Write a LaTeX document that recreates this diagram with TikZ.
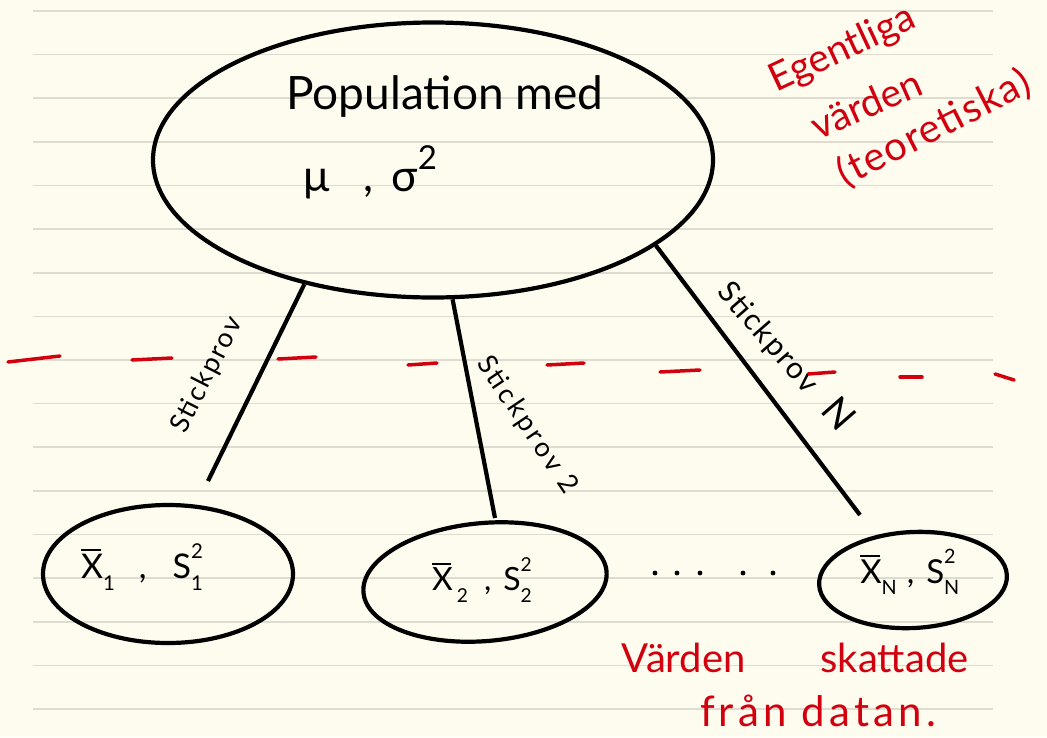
\documentclass[tikz,border=0pt]{standalone}
\usepackage{fontspec}
\setmainfont{Lato}
\usetikzlibrary{shapes.geometric}
\definecolor{paper}{HTML}{FEFCEF}
\definecolor{ruleline}{HTML}{DEDBD1}
\definecolor{ink}{HTML}{D2000F}
\newcommand\Xbar{\makebox[0pt][l]{\raisebox{0.8em}{\rule{0.6em}{0.07em}}}X}
\newcommand\mysub[1]{\raisebox{-0.35em}{\scalebox{0.6}{#1}}}
\newcommand\mysubsup[2]{\rlap{\raisebox{-0.35em}{\scalebox{0.6}{#1}}}\raisebox{0.6em}{\scalebox{0.6}{#2}}}
\tikzset{
  bubble/.style={draw=black, line width=4.2pt, ellipse, inner sep=0pt},
  conn/.style={draw=black, line width=4.2pt},
  blk/.style={text=black, inner sep=0pt},
  note/.style={text=ink, inner sep=0pt},
  rdash/.style={draw=ink, line width=3.5pt, line cap=round},
  paperline/.style={draw=ruleline, line width=1.6pt},
  dotmark/.style={fill=black},
}
\begin{document}
\begin{tikzpicture}[x=1pt,y=-1pt]
\useasboundingbox (0,0) rectangle (1047,737);
\fill[paper] (0,0) rectangle (1047,737);
\foreach \k in {0,...,16} \draw[paperline] (33,{11+43.625*\k}) -- (993,{11+43.625*\k});

% red dashed separator
\draw[rdash] (8,362) -- (60,356);
\draw[rdash] (132,360) -- (172,358);
\draw[rdash] (278,359) -- (316,357);
\draw[rdash] (408,365) -- (437,363);
\draw[rdash] (547,365) -- (584,363);
\draw[rdash] (660,372) -- (700,370);
\draw[rdash] (808,374) -- (835,372);
\draw[rdash] (900,377) -- (922,377);
\draw[rdash] (995,374) -- (1014,380);

% ellipses
\node[bubble, minimum width=560pt, minimum height=275pt] (pop) at (433,160) {};
\node[bubble, minimum width=250pt, minimum height=138pt] (e1) at (168,574) {};
\node[bubble, minimum width=244pt, minimum height=118pt, rotate=5] (e2) at (485,582) {};
\node[bubble, minimum width=188pt, minimum height=96pt, rotate=3] (e3) at (913,580) {};

% texts in ellipses
\node[blk, font=\fontsize{46}{46}\selectfont] (ptxt) at (445,97) {Population med};
\node[blk, anchor=west, font=\fontsize{44}{44}\selectfont] (mtxt) at (303,172) {μ\hspace{34pt},\hspace{18pt}σ\raisebox{0.5em}{\scalebox{0.75}{2}}};
\node[blk, font=\fontsize{34}{34}\selectfont] (t1) at (142,567) {\Xbar\mysub{1}\hspace{24pt},\hspace{26pt}S\mysubsup{1}{2}};
\node[blk, font=\fontsize{32}{32}\selectfont] (t2) at (482,580) {\Xbar\hspace{4pt}\mysub{2}\hspace{16pt},\hspace{12pt}S\mysubsup{2}{2}};
\node[blk, font=\fontsize{33}{33}\selectfont] (t3) at (908,572) {\Xbar\mysub{N}\hspace{10pt},\hspace{12pt}S\mysubsup{N}{2}};

% connectors
\coordinate (c1) at (208,481);
\coordinate (c2) at (495,518);
\coordinate (c3) at (860,515);
\draw[conn] (pop.224) -- (c1);
\draw[conn] (pop.278.6) -- (c2);
\draw[conn] (pop.339) -- (c3);

% connector labels
\node[blk, rotate=63, font=\fontsize{27}{27}\selectfont\addfontfeature{LetterSpace=8}] (l1) at (207,375) {Stickprov};
\node[blk, rotate=-56, font=\fontsize{27}{27}\selectfont\addfontfeature{LetterSpace=12}] (l2) at (527,425) {Stickprov 2};
\node[blk, rotate=-49, font=\fontsize{30}{30}\selectfont\addfontfeature{LetterSpace=6}] (l3) at (786,356) {Stickprov\hspace{22pt}{\fontsize{38}{38}\selectfont N}};

% dots
\foreach \px in {655,677,700,743,773} \fill[dotmark] (\px,573) circle (2.4pt);

% red notes
\node[note, rotate=25, font=\fontsize{39}{39}\selectfont] (n1) at (843,50) {Egentliga};
\node[note, rotate=24, font=\fontsize{39}{39}\selectfont] (n2) at (866,104) {värden};
\node[note, rotate=27, font=\fontsize{40}{40}\selectfont\addfontfeature{LetterSpace=4}] (n3) at (934,128) {(teoretiska)};
\node[note, font=\fontsize{40}{40}\selectfont] (n4) at (795,658) {Värden\hspace{75pt}skattade};
\node[note, font=\fontsize{42}{42}\selectfont\addfontfeature{LetterSpace=10}] (n5) at (818,711) {från datan.};
\end{tikzpicture}
\end{document}
